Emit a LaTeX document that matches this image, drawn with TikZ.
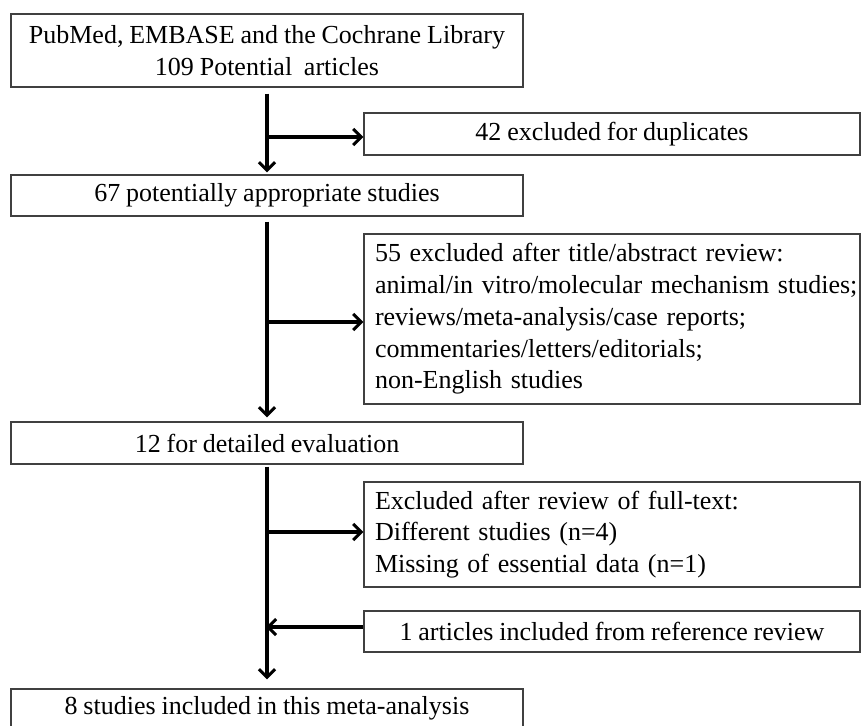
\documentclass[tikz,border=0pt]{standalone}
\usepackage{fontspec}
\setmainfont[WordSpace=0.9]{Liberation Serif}
\usetikzlibrary{arrows.meta}
\begin{document}
\begin{tikzpicture}[x=1pt,y=-1pt,
  box/.style={draw=black!75,line width=1.3pt,rectangle,inner sep=0pt,
    font=\fontsize{26}{31.7}\selectfont,align=center},
  lbox/.style={box,align=left,inner xsep=11pt,text width=474pt},
  arr/.style={line width=3.2pt,-{Straight Barb[length=8pt,width=16pt,line width=3pt]}}]
\useasboundingbox[fill=white] (0,0) rectangle (861,725);
\node[box,minimum width=512pt,minimum height=73pt] (b1) at (267,50.5)
  {PubMed, EMBASE and the Cochrane Library\\109 Potential\ \ articles};
\node[box,minimum width=496pt,minimum height=42pt] (b2) at (612,134)
  {42 excluded for duplicates};
\node[box,minimum width=512pt,minimum height=41pt] (b3) at (267,195.5)
  {67 potentially appropriate studies};
\node[lbox,minimum height=170pt] (b4) at (612,319)
  {\begin{tabular}{@{}l@{}}55 excluded after title/abstract review:\\animal/in vitro/molecular mechanism studies;\\reviews/meta-analysis/case reports;\\commentaries/letters/editorials;\\non-English studies\end{tabular}};
\node[box,minimum width=512pt,minimum height=42pt] (b5) at (267,443)
  {12 for detailed evaluation};
\node[lbox,minimum height=105pt] (b6) at (612,534.5)
  {\begin{tabular}{@{}l@{}}Excluded after review of full-text:\\Different studies (n=4)\\Missing of essential data (n=1)\end{tabular}};
\node[box,minimum width=496pt,minimum height=41pt] (b7) at (612,631.5)
  {1 articles included from reference review};
\node[box,minimum width=512pt,minimum height=38pt] (b8) at (267,708)
  {8 studies included in this meta-analysis};
% main flow
\draw[arr] ([yshift=-6pt]b1.south) -- ([yshift=2pt]b3.north);
\draw[arr] ([yshift=-5pt]b3.south) -- ([yshift=4pt]b5.north);
\draw[arr] ([yshift=-2pt]b5.south) -- ([yshift=9pt]b8.north);
% branches
\coordinate (j1) at (267,137);
\coordinate (j2) at (267,322);
\coordinate (j3) at (267,532);
\coordinate (j4) at (266,627);
\draw[arr] (j1) -- (j1 -| b2.west);
\draw[arr] (j2) -- (j2 -| b4.west);
\draw[arr] (j3) -- (j3 -| b6.west);
\draw[arr] (j4 -| b7.west) -- (j4);
\end{tikzpicture}
\end{document}
